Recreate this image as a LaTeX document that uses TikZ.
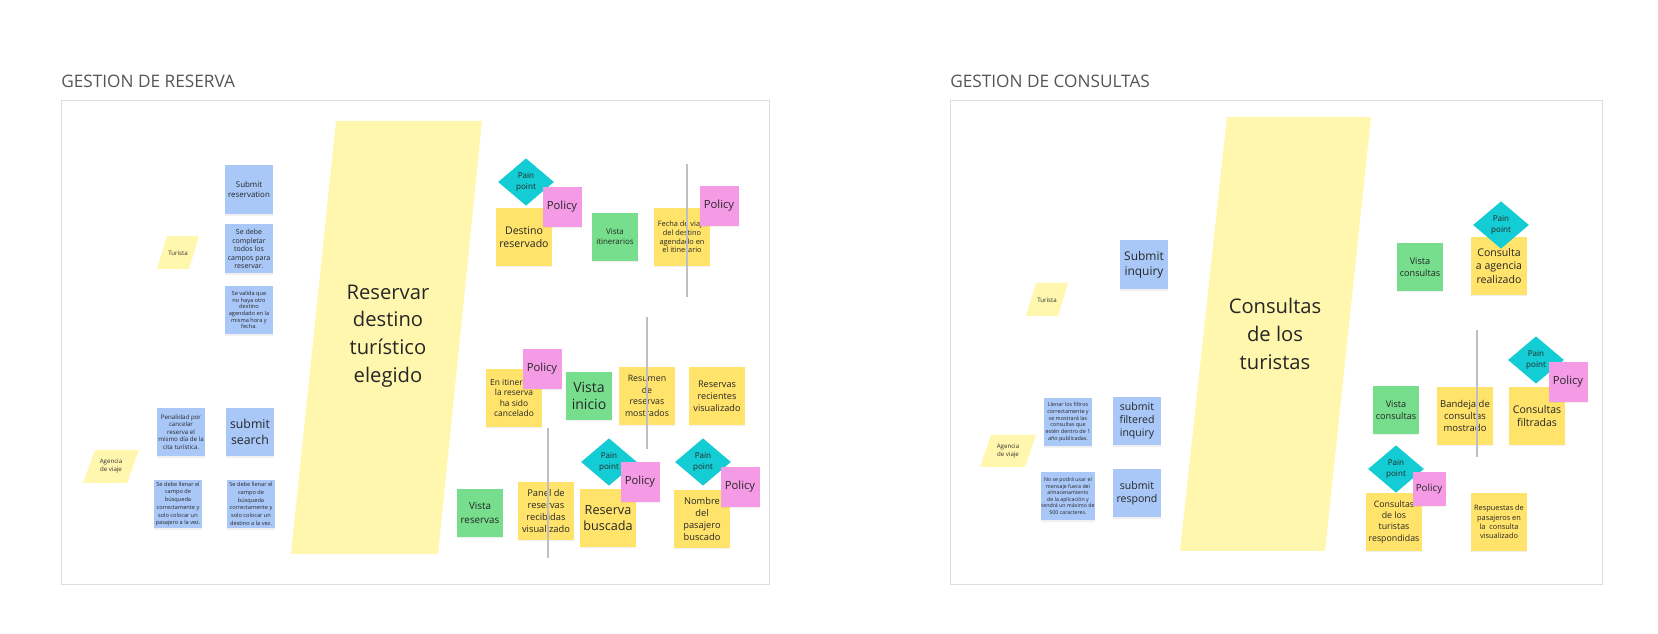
\documentclass[tikz,border=0pt]{standalone}
\usepackage{fontspec}
\setmainfont{Open Sans}
\usetikzlibrary{shapes.geometric,shadows}

\definecolor{stickyyellow}{HTML}{FFE36B}
\definecolor{paleyellow}{HTML}{FFF7AD}
\definecolor{stickyblue}{HTML}{A9C8F8}
\definecolor{stickygreen}{HTML}{76DE8C}
\definecolor{stickypink}{HTML}{F59BE6}
\definecolor{paincyan}{HTML}{14CDD4}
\definecolor{framegray}{HTML}{DDDDDD}
\definecolor{titlegray}{HTML}{555555}

\newcommand*{\fs}[2]{\fontsize{#1}{#2}\selectfont}

\begin{document}
\begin{tikzpicture}
[
	x=0.02cm, y=-0.02cm,
	frame/.style={draw=framegray, line width=0.5pt},
	title/.style={anchor=west, inner sep=0pt, text=titlegray, font=\fs{9.8}{11}},
	divider/.style={draw=black!25, line width=0.9pt},
	note/.style={rectangle, inner sep=0.5pt, align=center, text=black!85,
		drop shadow={opacity=0.12, shadow xshift=0pt, shadow yshift=-0.8pt}},
	yellownote/.style={note, fill=stickyyellow, minimum width=1.12cm, minimum height=1.15cm},
	bluenote/.style={note, fill=stickyblue, minimum width=0.95cm, minimum height=0.98cm},
	greennote/.style={note, fill=stickygreen, minimum width=0.92cm, minimum height=0.95cm},
	pinknote/.style={note, fill=stickypink, minimum width=0.78cm, minimum height=0.79cm, font=\fs{6.4}{7.5}},
	painpt/.style={diamond, fill=paincyan, inner sep=0pt, minimum width=1.12cm, minimum height=0.95cm,
		align=center, text=black!85, font=\fs{4.6}{6.2}},
	actor/.style={fill=paleyellow},
	actortxt/.style={align=center, text=black!80, font=\fs{3.5}{4.6}},
	bigtxt/.style={align=center, text=black!85, font=\fs{11.5}{15.8}},
]

	% page
	\useasboundingbox (0,0) rectangle (1658,634);

	% frames
	\draw[frame] (61,100) rectangle (769,584);
	\draw[frame] (950,100) rectangle (1602,584);
	\node[title] (titleres) at (61,81) {GESTION DE RESERVA};
	\node[title] (titlecons) at (950,81) {GESTION DE CONSULTAS};

	% ---------------- gestion de reserva ----------------
	\fill[actor] (291,554) -- (336,121) -- (482,121) -- (438,554) -- cycle;
	\node[bigtxt] (reservar) at (388,336) {Reservar\\destino\\turístico\\elegido};

	% actors
	\fill[actor] (157,269) -- (167,236) -- (199,236) -- (189,269) -- cycle;
	\node[actortxt] (turista) at (178,253) {Turista};
	\fill[actor] (83,483) -- (95,450) -- (139,450) -- (127,483) -- cycle;
	\node[actortxt] (agencia) at (111,466) {Agencia\\de viaje};

	% commands and rules
	\node[bluenote, font=\fs{4.5}{5.7}] (submitres) at (249,190) {Submit\\reservation};
	\node[bluenote, font=\fs{4}{4.8}] (completar) at (249,249) {Se debe\\completar\\todos los\\campos para\\reservar.};
	\node[bluenote, font=\fs{3.2}{3.8}] (validar) at (249,310) {Se valida que\\no haya otro\\destino\\agendado en la\\misma hora y\\fecha.};
	\node[bluenote, font=\fs{3.5}{4.3}] (penalidad) at (181,432) {Penalidad por\\cancelar\\reserva el\\mismo día de la\\cita turística.};
	\node[bluenote, font=\fs{7}{8.9}] (submitsearch) at (250,432) {submit\\search};
	\node[bluenote, font=\fs{3.2}{4.4}] (llenarpas) at (178,504) {Se debe llenar el\\campo de\\búsqueda\\correctamente y\\solo colocar un\\pasajero a la vez.};
	\node[bluenote, font=\fs{3.2}{4.4}] (llenardes) at (251,504) {Se debe llenar el\\campo de\\búsqueda\\correctamente y\\solo colocar un\\destino a la vez.};

	% events and views
	\node[yellownote, font=\fs{6}{7.5}] (destino) at (524,237) {Destino\\reservado};
	\node[greennote, font=\fs{4.5}{5.8}] (vistaitin) at (615,237) {Vista\\itinerarios};
	\node[yellownote, font=\fs{4.2}{5}] (fecha) at (682,237) {Fecha de viaje\\del destino\\agendado en\\el itinerario};
	\node[yellownote, font=\fs{4.8}{6}] (cancelado) at (514,398) {En itinerario\\la reserva\\ha sido\\cancelado};
	\node[greennote, font=\fs{8}{10}] (vistainicio) at (589,396) {Vista\\inicio};
	\node[yellownote, font=\fs{5}{6.6}] (resumen) at (647,396) {Resumen\\de\\reservas\\mostrados};
	\node[yellownote, font=\fs{5.2}{6.8}] (recientes) at (717,396) {Reservas\\recientes\\visualizado};
	\node[greennote, font=\fs{5.6}{7.5}] (vistares) at (480,513) {Vista\\reservas};
	\node[yellownote, font=\fs{5.3}{6.8}] (panel) at (546,511) {Panel de\\reservas\\recibidas\\visualizado};
	\node[yellownote, font=\fs{7.2}{9}] (buscada) at (608,518) {Reserva\\buscada};
	\node[yellownote, font=\fs{5.3}{6.8}] (nombre) at (702,519) {Nombre\\del\\pasajero\\buscado};

	% pain points and policies
	\node[painpt] (painres) at (526,182) {Pain\\point};
	\node[painpt] (painbus) at (609,462) {Pain\\point};
	\node[painpt] (painnom) at (703,462) {Pain\\point};
	\node[pinknote] (poldes) at (562,207) {Policy};
	\node[pinknote] (polfec) at (719,206) {Policy};
	\node[pinknote] (polcan) at (542,369) {Policy};
	\node[pinknote] (polbus) at (640,482) {Policy};
	\node[pinknote] (polnom) at (740,487) {Policy};

	% ---------------- gestion de consultas ----------------
	\fill[actor] (1180,551) -- (1227,117) -- (1371,117) -- (1325,551) -- cycle;
	\node[bigtxt] (consultas) at (1275,334) {Consultas\\de los\\turistas};

	% actors
	\fill[actor] (1026,316) -- (1036,283) -- (1068,283) -- (1058,316) -- cycle;
	\node[actortxt] (turistacons) at (1047,300) {Turista};
	\fill[actor] (980,467) -- (991,435) -- (1036,435) -- (1025,467) -- cycle;
	\node[actortxt] (agenciacons) at (1008,451) {Agencia\\de viaje};

	% commands and rules
	\node[bluenote, font=\fs{6.8}{8.5}] (submitinq) at (1144,265) {Submit\\inquiry};
	\node[bluenote, font=\fs{3.1}{3.8}] (filtros) at (1068,422) {Llenar los filtros\\correctamente y\\se mostrará las\\consultas que\\estén dentro de 1\\año publicadas.};
	\node[bluenote, font=\fs{6}{7.5}] (submitfilt) at (1137,421) {submit\\filtered\\inquiry};
	\node[bluenote, font=\fs{3}{3.7}] (mensaje) at (1068,496) {No se podrá usar el\\mensaje fuera del\\almacenamiento\\de la aplicación y\\tendrá un máximo de\\500 caracteres.};
	\node[bluenote, font=\fs{6}{7.2}] (submitresp) at (1137,493) {submit\\respond};

	% events and views
	\node[greennote, font=\fs{5.2}{6.6}] (vistacons) at (1420,267) {Vista\\consultas};
	\node[yellownote, font=\fs{6}{7.5}] (consage) at (1499,266) {Consulta\\a agencia\\realizado};
	\node[greennote, font=\fs{5.2}{6.6}] (vistaconsb) at (1396,410) {Vista\\consultas};
	\node[yellownote, font=\fs{5.4}{6.9}] (bandeja) at (1465,416) {Bandeja de\\consultas\\mostrado};
	\node[yellownote, font=\fs{6}{7.5}] (filtradas) at (1537,416) {Consultas\\filtradas};
	\node[yellownote, font=\fs{5}{6.4}] (respondidas) at (1394,522) {Consultas\\de los\\turistas\\respondidas};
	\node[yellownote, font=\fs{4.2}{5.3}] (respuestas) at (1499,522) {Respuestas de\\pasajeros en\\la\ \ consulta\\visualizado};

	% pain points and policies
	\node[painpt] (painage) at (1501,225) {Pain\\point};
	\node[painpt] (painfil) at (1536,360) {Pain\\point};
	\node[painpt] (painresp) at (1396,469) {Pain\\point};
	\node[pinknote] (polfil) at (1568,382) {Policy};
	\node[pinknote, minimum width=0.66cm, minimum height=0.68cm, font=\fs{5.6}{6.5}] (polresp) at (1429,489) {Policy};

	% dividers
	\foreach \x/\ya/\yb in {687/164/297, 647/317/449, 548/428/558, 1477/330/457}
		\draw[divider] (\x,\ya) -- (\x,\yb);

\end{tikzpicture}
\end{document}
